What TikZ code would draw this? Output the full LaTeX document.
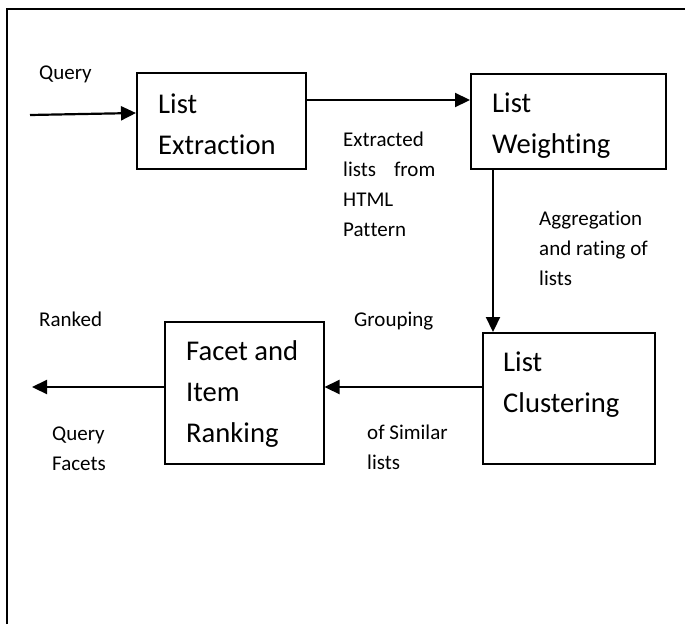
\documentclass[tikz,border=0pt]{standalone}
\usepackage{fontspec}
\setmainfont{Carlito}[Ligatures={NoCommon,NoRare,NoContextual}]
\usetikzlibrary{arrows.meta,calc}
\newcommand\nolig{\kern0pt }
\begin{document}
\begin{tikzpicture}[x=1pt,y=-1pt,
  block/.style={draw=black,line width=1.5pt,minimum width=#1,inner sep=0,anchor=north west},
  bigtxt/.style={font=\fontsize{28.6}{41}\selectfont,align=left,anchor=base west,inner sep=0},
  smalltxt/.style={font=\fontsize{21}{30}\selectfont,align=left,anchor=base west,inner sep=0},
  arr/.style={line width=2.2pt,-{Triangle[length=15pt,width=14pt]}}]
\useasboundingbox (0,0) rectangle (685,624);
% outer frame
\draw[line width=1.5pt] (7,624) -- (7,9) -- (685,9);
% blocks
\node[block=169pt,minimum height=96pt] (ext) at (136,72) {};
\node[block=195pt,minimum height=95pt] (wgt) at (470,73) {};
\node[block=172pt,minimum height=131pt] (clu) at (482,332) {};
\node[block=159pt,minimum height=142pt] (fac) at (164,321) {};
% block texts (anchored at the baseline of the last line)
\node[bigtxt] (extt) at (158,154) {List\\Extrac\nolig tion};
\node[bigtxt] (wgtt) at (492,153) {List\\Weight\nolig ing};
\node[bigtxt] (clut) at (503,412) {List\\Clustering};
\node[bigtxt] (fact) at (186,442) {Facet and\\Item\\Ranking};
% labels
\node[smalltxt] (lq) at (39,79) {Query};
\node[smalltxt] (lext) at (343,236) {Extracted\\lists\hspace{18pt}from\\HTML\\Pat\nolig tern};
\node[smalltxt] (lagg) at (539,285) {Aggregation\\and rat\nolig ing of\\lists};
\node[smalltxt] (lrank) at (39,326) {Ranked};
\node[smalltxt] (lgrp) at (354,326) {Grouping};
\node[smalltxt] (lqf) at (52,470) {Query\\Facets};
\node[smalltxt] (lsim) at (367,469) {of Similar\\lists};
% connectors
\coordinate (qin) at (30,115);
\coordinate (qout) at (32,387);
\draw[arr] (qin) -- ($(ext.north west)+(0,41)$);
\draw[arr] ($(ext.north east)+(0,28)$) -- ($(wgt.north west)+(0,27)$);
\draw[arr] ($(wgt.south west)+(23,0)$) -- ($(clu.north west)+(11,0)$);
\draw[arr] ($(clu.north west)+(0,55)$) -- ($(fac.north east)+(0,66)$);
\draw[arr] ($(fac.north west)+(0,66)$) -- (qout);
\end{tikzpicture}
\end{document}
